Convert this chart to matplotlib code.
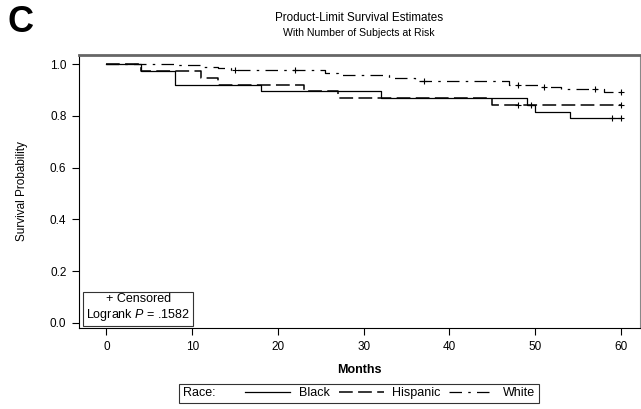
import numpy as np
import matplotlib
matplotlib.use('Agg')
from matplotlib import pyplot as plt
from matplotlib.lines import Line2D

plt.rcParams['font.family'] = ['Liberation Sans', 'DejaVu Sans']
plt.rcParams['mathtext.fontset'] = 'custom'
plt.rcParams['mathtext.rm'] = 'Liberation Sans'
plt.rcParams['mathtext.it'] = 'Liberation Sans:italic'

# survival step data (months, probability)
black_t = [0, 4, 8, 18, 32, 49, 50, 54, 60]
black_s = [1.0, 0.974, 0.921, 0.895, 0.868, 0.842, 0.816, 0.790, 0.790]
black_cens = [59, 60]

hisp_t = [0, 4, 11, 13, 23, 27, 45, 60]
hisp_s = [1.0, 0.974, 0.946, 0.921, 0.895, 0.868, 0.842, 0.842]
hisp_cens = [48, 49.5, 60]

white_t = [0, 8, 11, 13, 14.5, 25.5, 27, 33, 36, 47, 50.5, 53, 58, 60]
white_s = [1.0, 0.995, 0.990, 0.983, 0.977, 0.965, 0.958, 0.945, 0.935,
           0.920, 0.910, 0.902, 0.891, 0.891]
white_cens = [15, 22, 37, 48, 51, 57, 60]

groups = ['Black', 'Hispanic', 'White']
x_ticks = [0, 10, 20, 30, 40, 50, 60]
y_ticks = [0.0, 0.2, 0.4, 0.6, 0.8, 1.0]

styles = {
    'Black': dict(ls='-', lw=0.9),
    'Hispanic': dict(ls=(0, (9, 3.5)), lw=1.1),
    'White': dict(ls=(0, (10, 5, 2, 5)), lw=0.9),
}

fig = plt.figure(figsize=(6.41, 4.09), dpi=100)
ax = fig.add_axes([0.1232, 0.198, 0.875, 0.6675])


def surv_at(t, s, x):
    i = np.searchsorted(t, x, side='right') - 1
    return s[i]


data = {
    'Black': (black_t, black_s, black_cens),
    'Hispanic': (hisp_t, hisp_s, hisp_cens),
    'White': (white_t, white_s, white_cens),
}

handles = []
for g in groups:
    t, s, c = data[g]
    ln, = ax.step(t, s, where='post', color='black', **styles[g])
    cy = [surv_at(np.array(t), np.array(s), x) for x in c]
    ax.plot(c, cy, ls='none', marker='+', color='black', ms=5, mew=0.8)
    handles.append(ln)

ax.set_xlim(-3.2, 62.2)
ax.set_ylim(-0.02, 1.035)
ax.set_xticks(x_ticks)
ax.set_yticks(y_ticks)
ax.set_yticklabels(['%.1f' % v for v in y_ticks])
ax.tick_params(direction='out', length=5, width=0.8, labelsize=8.5, pad=4)
ax.set_xlabel('Months', fontsize=9, fontweight='semibold', labelpad=8)
ax.set_ylabel('Survival Probability', fontsize=8.5, labelpad=16)

ax.spines['top'].set_color('#666666')
ax.spines['top'].set_linewidth(2)
ax.spines['right'].set_color('#888888')
ax.spines['right'].set_linewidth(0.8)

ax.text(0.013, 0.018, '+ Censored\nLogrank $P$ = .1582', transform=ax.transAxes,
        ha='left', va='bottom', multialignment='center', fontsize=9,
        bbox=dict(boxstyle='square,pad=0.25', fc='white', ec='#333333', lw=0.8))

fig.text(0.5605, 0.955, 'Product-Limit Survival Estimates', ha='center', va='center', fontsize=8.4)
fig.text(0.5605, 0.92, 'With Number of Subjects at Risk', ha='center', va='center', fontsize=7.6)
fig.text(0.012, 0.945, 'C', ha='left', va='center', fontsize=26, fontweight='bold')

blank = Line2D([], [], color='none')
leg = fig.legend([blank] + handles, [''] + groups, loc='center', ncol=4,
                 bbox_to_anchor=(0.56, 0.038), fontsize=9, frameon=True,
                 fancybox=False, edgecolor='black', handlelength=3.6,
                 handletextpad=0.7, columnspacing=0.7, borderpad=0.3)
leg.get_frame().set_linewidth(0.8)

fig.canvas.draw()
bb = leg.get_window_extent().transformed(fig.transFigure.inverted())
fig.text(bb.x0 + 0.006, (bb.y0 + bb.y1) / 2, 'Race:', ha='left', va='center',
         fontsize=9, zorder=10)

fig.savefig('out.png', dpi=100)
